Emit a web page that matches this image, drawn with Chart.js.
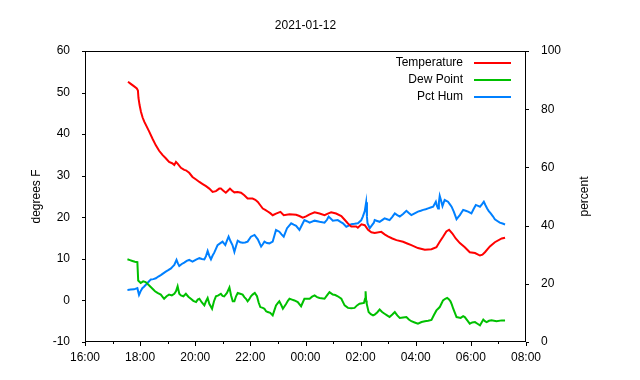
<!DOCTYPE html>
<html>
<head>
<meta charset="utf-8">
<title>2021-01-12</title>
<script src="https://cdn.jsdelivr.net/npm/chart.js@4/dist/chart.umd.min.js"></script>
<style>
  html, body { margin: 0; padding: 0; background: #fff; }
</style>
</head>
<body>
<canvas id="weatherChart" width="640" height="380"></canvas>
<script>
// hours since midnight of 2021-01-12 (values past 24 are the next morning)
const tempHours = [17.56,17.66,17.76,17.88,17.92,17.94,17.98,18.03,18.09,18.15,18.24,18.33,18.45,18.57,18.69,18.81,18.93,19.05,19.16,19.24,19.30,19.36,19.48,19.60,19.66,19.78,19.90,20.03,20.15,20.27,20.39,20.51,20.63,20.75,20.87,20.93,21.02,21.11,21.20,21.26,21.34,21.42,21.54,21.66,21.78,21.90,22.08,22.18,22.27,22.36,22.45,22.54,22.63,22.72,22.81,22.93,23.09,23.21,23.42,23.66,23.78,23.90,24.02,24.15,24.33,24.51,24.69,24.81,24.93,25.11,25.30,25.42,25.54,25.66,25.84,25.90,26.03,26.15,26.27,26.39,26.51,26.75,26.87,26.99,27.15,27.30,27.54,27.69,27.84,28.08,28.33,28.57,28.75,28.87,28.99,29.11,29.21,29.33,29.45,29.60,29.78,29.96,30.15,30.33,30.42,30.51,30.69,30.87,31.12,31.24];
const tempValues = [52.6,52.1,51.6,51.0,50.5,48.7,47.0,45.4,44.0,43.0,41.8,40.6,38.9,37.3,36.0,35.0,34.2,33.3,33.0,32.6,33.3,32.9,31.9,31.4,31.3,30.7,29.7,29.1,28.5,28.0,27.5,26.9,26.1,26.3,26.9,26.9,26.4,25.9,26.5,26.9,26.4,26.0,26.1,25.9,25.3,24.5,24.5,24.2,23.7,22.9,22.1,21.8,21.4,21.0,20.5,20.9,21.3,20.5,20.7,20.6,20.3,19.9,20.2,20.7,21.2,20.9,20.5,20.9,21.2,20.9,20.3,19.4,18.5,17.8,17.8,17.5,18.3,18.1,17.0,16.4,16.2,16.5,15.9,15.4,14.9,14.5,14.1,13.7,13.3,12.6,12.2,12.3,12.8,14.1,15.3,16.6,17.0,16.1,14.9,13.8,12.8,11.6,11.4,10.8,11.0,11.6,13.0,14.0,14.9,15.1];

const dewHours = [17.54,17.63,17.72,17.81,17.90,17.93,18.02,18.11,18.20,18.33,18.45,18.54,18.63,18.75,18.87,18.96,19.05,19.15,19.24,19.30,19.36,19.42,19.48,19.57,19.66,19.75,19.84,19.93,20.03,20.09,20.15,20.24,20.33,20.39,20.45,20.51,20.57,20.61,20.68,20.75,20.84,20.93,20.99,21.05,21.15,21.24,21.30,21.36,21.42,21.48,21.54,21.63,21.72,21.78,21.84,21.90,21.96,22.02,22.08,22.16,22.24,22.30,22.36,22.45,22.51,22.57,22.63,22.72,22.81,22.87,22.93,23.00,23.05,23.12,23.18,23.24,23.30,23.36,23.42,23.51,23.60,23.72,23.84,23.90,23.96,24.15,24.24,24.33,24.42,24.51,24.69,24.78,24.87,24.99,25.08,25.17,25.30,25.36,25.42,25.54,25.66,25.78,25.87,25.96,26.12,26.16,26.18,26.20,26.22,26.29,26.37,26.45,26.51,26.60,26.69,26.78,26.87,26.96,27.05,27.15,27.24,27.33,27.42,27.54,27.66,27.75,27.84,27.96,28.08,28.21,28.33,28.45,28.57,28.66,28.75,28.81,28.87,28.93,28.99,29.07,29.14,29.20,29.26,29.31,29.36,29.42,29.48,29.63,29.72,29.78,29.87,29.96,30.05,30.15,30.24,30.33,30.39,30.45,30.51,30.57,30.66,30.75,30.93,31.12,31.24];
const dewValues = [9.9,9.7,9.5,9.3,9.2,4.8,4.2,4.6,4.4,3.6,2.8,2.2,1.8,1.4,0.4,1.0,1.4,1.2,1.6,2.2,3.4,1.6,1.2,1.0,1.6,0.9,0.4,-0.1,-0.4,0.2,0.4,-0.5,-1.2,-0.2,0.6,-0.8,-1.5,-2.0,-0.2,1.0,1.2,1.6,1.1,1.0,1.8,3.1,1.2,-0.2,-0.2,1.0,1.8,1.6,1.4,0.8,0.4,-0.2,0.3,1.0,1.4,1.8,1.0,-0.5,-1.6,-1.8,-2.0,-2.6,-2.8,-3.0,-3.6,-2.4,-1.2,-0.6,-0.2,-1.1,-2.0,-1.4,-0.8,-0.1,0.4,0.2,0.0,-0.4,-1.4,-0.5,0.4,0.4,0.9,1.2,0.8,0.6,0.4,1.2,2.0,1.4,1.3,1.0,0.4,-0.4,-1.2,-1.8,-1.9,-1.8,-1.2,-0.8,-0.6,0.4,2.2,0.0,-0.8,-2.8,-3.3,-3.6,-3.4,-2.9,-2.2,-2.8,-3.2,-3.6,-4.0,-3.4,-2.8,-3.6,-4.2,-4.1,-4.0,-4.6,-5.0,-5.3,-5.6,-5.2,-5.0,-4.9,-4.7,-3.5,-2.4,-2.0,-1.6,-0.8,0.0,0.4,0.6,0.3,-0.2,-1.0,-2.0,-3.0,-4.0,-4.2,-3.8,-4.0,-4.8,-5.6,-5.3,-5.2,-5.6,-6.0,-5.3,-4.6,-5.0,-5.2,-4.9,-4.8,-5.0,-4.8,-4.8];

const humHours = [17.54,17.66,17.78,17.90,17.96,18.02,18.08,18.14,18.20,18.30,18.39,18.48,18.57,18.66,18.75,18.84,18.93,19.02,19.12,19.18,19.24,19.32,19.37,19.42,19.51,19.60,19.69,19.78,19.90,20.03,20.15,20.24,20.33,20.39,20.45,20.51,20.57,20.63,20.69,20.75,20.81,20.90,20.99,21.09,21.15,21.21,21.28,21.35,21.42,21.48,21.54,21.63,21.72,21.81,21.90,22.02,22.15,22.27,22.39,22.45,22.51,22.60,22.69,22.81,22.87,22.93,23.05,23.13,23.21,23.33,23.41,23.48,23.57,23.66,23.78,23.87,23.96,24.05,24.15,24.33,24.51,24.69,24.78,24.84,24.93,24.99,25.17,25.27,25.36,25.48,25.57,25.66,25.78,25.90,26.02,26.08,26.15,26.20,26.23,26.25,26.33,26.40,26.48,26.51,26.60,26.69,26.78,26.87,26.96,27.05,27.15,27.24,27.33,27.42,27.54,27.66,27.75,27.84,27.96,28.08,28.18,28.27,28.36,28.45,28.54,28.63,28.69,28.73,28.77,28.81,28.84,28.87,28.92,28.97,29.01,29.05,29.11,29.17,29.24,29.30,29.38,29.43,29.48,29.54,29.60,29.66,29.72,29.81,29.90,30.02,30.10,30.18,30.26,30.33,30.40,30.47,30.53,30.59,30.65,30.72,30.80,30.87,30.96,31.05,31.15,31.24];
const humValues = [17.9,18.0,18.1,18.5,16.2,17.5,18.5,19.0,19.6,20.6,21.5,21.6,21.9,22.5,23.0,23.6,24.2,24.7,25.3,25.9,26.5,28.2,27.0,26.1,26.8,27.3,27.9,28.2,27.6,28.3,28.8,28.5,28.4,29.5,31.3,29.6,28.4,29.7,30.7,32.0,33.3,33.9,34.5,33.3,34.8,36.2,34.6,33.3,31.0,33.0,34.8,34.3,34.1,34.2,34.5,36.2,36.8,35.3,32.8,33.6,34.5,34.0,33.9,34.5,36.5,38.5,37.9,37.0,36.2,39.1,40.0,40.8,40.3,39.9,38.5,40.2,41.9,41.5,41.0,41.7,41.3,41.0,42.0,43.1,42.3,41.7,41.9,41.3,40.8,39.6,40.0,40.5,40.6,40.8,41.8,43.1,45.0,48.0,43.0,40.8,39.1,40.0,41.0,41.9,41.6,41.3,41.9,42.5,42.2,41.9,43.0,44.2,43.6,43.1,44.0,45.1,44.3,43.6,44.2,44.8,45.1,45.4,45.6,45.9,46.2,46.5,47.5,48.2,46.8,45.9,48.0,50.2,48.5,46.7,47.8,48.8,48.5,48.2,47.3,46.5,44.8,43.5,42.2,42.9,43.6,44.5,45.4,45.1,44.8,44.2,45.7,47.1,46.8,46.5,47.3,48.2,47.0,45.9,45.0,44.2,43.2,42.2,41.6,41.0,40.7,40.4];

const xTicks = [16, 18, 20, 22, 24, 26, 28, 30, 32];
const leftTicks = [-10, 0, 10, 20, 30, 40, 50, 60];
const rightTicks = [0, 20, 40, 60, 80, 100];

const chartTitle = '2021-01-12';
const leftTitle = 'degrees F';
const rightTitle = 'percent';

function toPoints(hours, values) {
    return hours.map((h, i) => ({ x: h, y: values[i] }));
}

function hourLabel(h) {
    let hh = ((h % 24) + 24) % 24;
    return (hh < 10 ? '0' : '') + hh + ':00';
}

const FONT = '"Liberation Sans", Arial, sans-serif';
Chart.defaults.font.family = FONT;
Chart.defaults.font.size = 12;
Chart.defaults.color = '#000';

// gnuplot style frame: box, outward tics, title, axis titles and key
const framePlugin = {
    id: 'frame',
    afterDraw(chart) {
        const ctx = chart.ctx;
        const a = chart.chartArea;
        const sx = chart.scales.x, sy = chart.scales.y, sy2 = chart.scales.y2;
        ctx.save();
        ctx.strokeStyle = '#000';
        ctx.lineWidth = 1;
        ctx.strokeRect(a.left + 0.5, a.top + 0.5, a.right - a.left - 1, a.bottom - a.top - 1);

        ctx.beginPath();
        for (let h = xTicks[0]; h <= xTicks[xTicks.length - 1]; h++) {
            const px = Math.round(sx.getPixelForValue(h)) + 0.5;
            const len = (h % 2 === 0) ? 4 : 2;
            ctx.moveTo(px, a.bottom);
            ctx.lineTo(px, a.bottom + len);
        }
        leftTicks.forEach(v => {
            const py = Math.round(sy.getPixelForValue(v)) + 0.5;
            ctx.moveTo(a.left - 3, py);
            ctx.lineTo(a.left, py);
        });
        rightTicks.forEach(v => {
            const py = Math.round(sy2.getPixelForValue(v)) + 0.5;
            ctx.moveTo(a.right, py);
            ctx.lineTo(a.right + 3, py);
        });
        ctx.stroke();

        ctx.fillStyle = '#000';
        ctx.font = '12px ' + FONT;
        ctx.textAlign = 'center';
        ctx.textBaseline = 'middle';
        ctx.fillText(chartTitle, (a.left + a.right) / 2, 26);

        const midY = (a.top + a.bottom) / 2;
        ctx.save();
        ctx.translate(37, midY);
        ctx.rotate(-Math.PI / 2);
        ctx.fillText(leftTitle, 0, 0);
        ctx.restore();
        ctx.save();
        ctx.translate(585, midY);
        ctx.rotate(-Math.PI / 2);
        ctx.fillText(rightTitle, 0, 0);
        ctx.restore();

        // key
        ctx.textAlign = 'right';
        chart.data.datasets.forEach((ds, i) => {
            const ky = a.top + 12 + i * 17;
            ctx.fillStyle = '#000';
            ctx.fillText(ds.label, a.right - 63, ky);
            ctx.strokeStyle = ds.borderColor;
            ctx.lineWidth = 2;
            ctx.beginPath();
            ctx.moveTo(a.right - 52, ky);
            ctx.lineTo(a.right - 15, ky);
            ctx.stroke();
        });
        ctx.restore();
    }
};

const ctx = document.getElementById('weatherChart').getContext('2d');
const weatherChart = new Chart(ctx, {
    type: 'line',
    data: {
        datasets: [{
            label: 'Temperature',
            data: toPoints(tempHours, tempValues),
            borderColor: '#ff0000',
            yAxisID: 'y'
        }, {
            label: 'Dew Point',
            data: toPoints(dewHours, dewValues),
            borderColor: '#00c000',
            yAxisID: 'y'
        }, {
            label: 'Pct Hum',
            data: toPoints(humHours, humValues),
            borderColor: '#0080ff',
            yAxisID: 'y2'
        }]
    },
    options: {
        responsive: false,
        animation: false,
        devicePixelRatio: 1,
        layout: { padding: { top: 51, left: 0, right: 0, bottom: 0 } },
        elements: {
            line: { borderWidth: 2, tension: 0, fill: false },
            point: { radius: 0 }
        },
        plugins: {
            legend: { display: false },
            title: { display: false },
            tooltip: { enabled: false }
        },
        scales: {
            x: {
                type: 'linear',
                min: 16,
                max: 32,
                grid: { display: false, drawTicks: false },
                border: { display: false },
                afterBuildTicks: s => { s.ticks = xTicks.map(v => ({ value: v })); },
                afterFit: s => { s.height = 38; },
                ticks: {
                    padding: 8,
                    maxRotation: 0,
                    autoSkip: false,
                    callback: v => hourLabel(v)
                }
            },
            y: {
                position: 'left',
                min: -10,
                max: 60,
                grid: { display: false, drawTicks: false },
                border: { display: false },
                afterBuildTicks: s => { s.ticks = leftTicks.map(v => ({ value: v })); },
                afterFit: s => { s.width = 85; },
                ticks: { padding: 15 }
            },
            y2: {
                position: 'right',
                min: 0,
                max: 100,
                grid: { display: false, drawTicks: false },
                border: { display: false },
                afterBuildTicks: s => { s.ticks = rightTicks.map(v => ({ value: v })); },
                afterFit: s => { s.width = 114; },
                ticks: { padding: 15 }
            }
        }
    },
    plugins: [framePlugin]
});
</script>
</body>
</html>
